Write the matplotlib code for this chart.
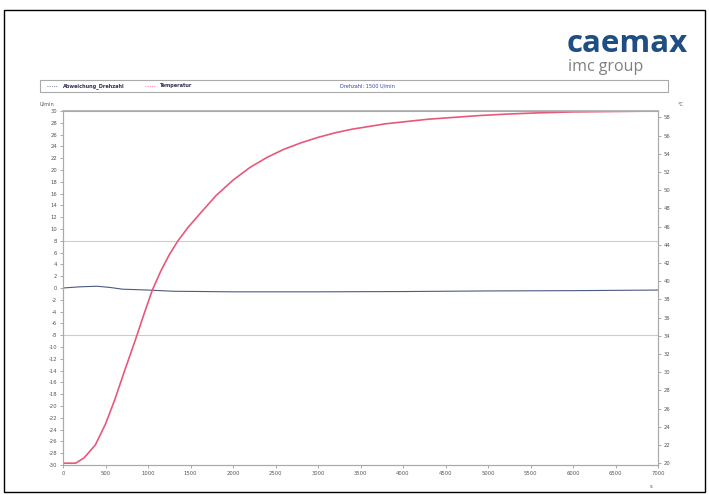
import matplotlib.pyplot as plt
import numpy as np
from matplotlib.patches import Rectangle
from matplotlib.lines import Line2D

plt.rcParams['axes.unicode_minus'] = False

zeit_temp = [0, 150, 250, 380, 500, 610, 730, 850, 950, 1050, 1150, 1250, 1350,
             1470, 1610, 1800, 2000, 2200, 2400, 2600, 2800, 3000, 3200, 3400,
             3600, 3800, 4000, 4300, 4600, 4900, 5200, 5600, 6000, 6500, 7000]
temperatur = [20.0, 20.0, 20.6, 22.0, 24.3, 27.0, 30.3, 33.5, 36.3, 39.0, 41.1,
              42.9, 44.4, 45.9, 47.4, 49.4, 51.1, 52.5, 53.6, 54.5, 55.2, 55.8,
              56.3, 56.7, 57.0, 57.3, 57.5, 57.8, 58.0, 58.2, 58.35, 58.5, 58.6,
              58.65, 58.7]

zeit_dz = [0, 200, 400, 550, 700, 1000, 1300, 2000, 3000, 4000, 5000, 6000, 7000]
abweichung = [0.0, 0.2, 0.3, 0.1, -0.2, -0.35, -0.55, -0.65, -0.65, -0.6,
              -0.5, -0.45, -0.35]

grenze = 8
x_ticks = list(range(0, 7001, 500))
y_links = list(range(-30, 31, 2))
y_rechts = list(range(20, 59, 2))

fig = plt.figure(figsize=(7.09, 4.95), dpi=100)
fig.patch.set_facecolor('white')

# Rahmen um das ganze Bild
fig.add_artist(Rectangle((4 / 709, 3 / 495), 701 / 709, 482 / 495,
                         transform=fig.transFigure, fill=False,
                         edgecolor='black', linewidth=1.0))

# Logo
fig.text(688 / 709, 1 - 44 / 495, 'caemax', ha='right', va='center',
         fontsize=22.5, fontweight='bold', color='#1f4f82', family='Open Sans')
fig.text(568 / 709, 1 - 67 / 495, 'imc group', ha='left', va='center',
         fontsize=11.5, color='#808080', family='Open Sans')

# Legendenkasten
fig.add_artist(Rectangle((40 / 709, 1 - 92 / 495), 628 / 709, 12 / 495,
                         transform=fig.transFigure, fill=False,
                         edgecolor='#aaaaaa', linewidth=0.8))
ly = 1 - 86 / 495
fig.add_artist(Line2D([47 / 709, 58 / 709], [ly, ly], transform=fig.transFigure,
                      color='#4a5a80', linewidth=0.6, linestyle=':'))
fig.text(63 / 709, ly, 'Abweichung_Drehzahl', fontsize=3.6, color='#333355',
         va='center', fontweight='bold')
fig.add_artist(Line2D([145 / 709, 156 / 709], [ly, ly], transform=fig.transFigure,
                      color='#e8587a', linewidth=0.6, linestyle=':'))
fig.text(160 / 709, ly, 'Temperatur', fontsize=3.6, color='#333355',
         va='center', fontweight='bold')
fig.text(340 / 709, ly, 'Drehzahl: 1500 U/min', fontsize=3.6, color='#3344aa',
         va='center')

ax = fig.add_axes([63 / 709, 1 - 465 / 495, 595 / 709, 354 / 495])
ax2 = ax.twinx()

ax.axhline(grenze, color='#cccccc', linewidth=0.8)
ax.axhline(-grenze, color='#cccccc', linewidth=0.8)
ax.plot(zeit_dz, abweichung, color='#4a5a80', linewidth=0.8)
ax2.plot(zeit_temp, temperatur, color='#e8587a', linewidth=1.2)

ax.set_xlim(0, 7000)
ax.set_ylim(-30, 30)
ax2.set_ylim(19.8, 58.7)
ax.set_xticks(x_ticks)
ax.set_yticks(y_links)
ax2.set_yticks(y_rechts)

for a in (ax, ax2):
    a.tick_params(labelsize=3.8, length=2, width=0.5, colors='#888888',
                  labelcolor='#555555', pad=2)
    for s in a.spines.values():
        s.set_color('#aaaaaa')
        s.set_linewidth(0.8)
ax.spines['top'].set_linewidth(1.2)

fig.text(40 / 709, 1 - 104 / 495, 'U/min', fontsize=3.6, color='#555555',
         va='center')
fig.text(678 / 709, 1 - 104 / 495, '°C', fontsize=3.6, color='#555555',
         va='center')
fig.text(650 / 709, 1 - 486 / 495, 's', fontsize=3.8, color='#555555',
         va='center')

fig.savefig('out.png', dpi=100)
